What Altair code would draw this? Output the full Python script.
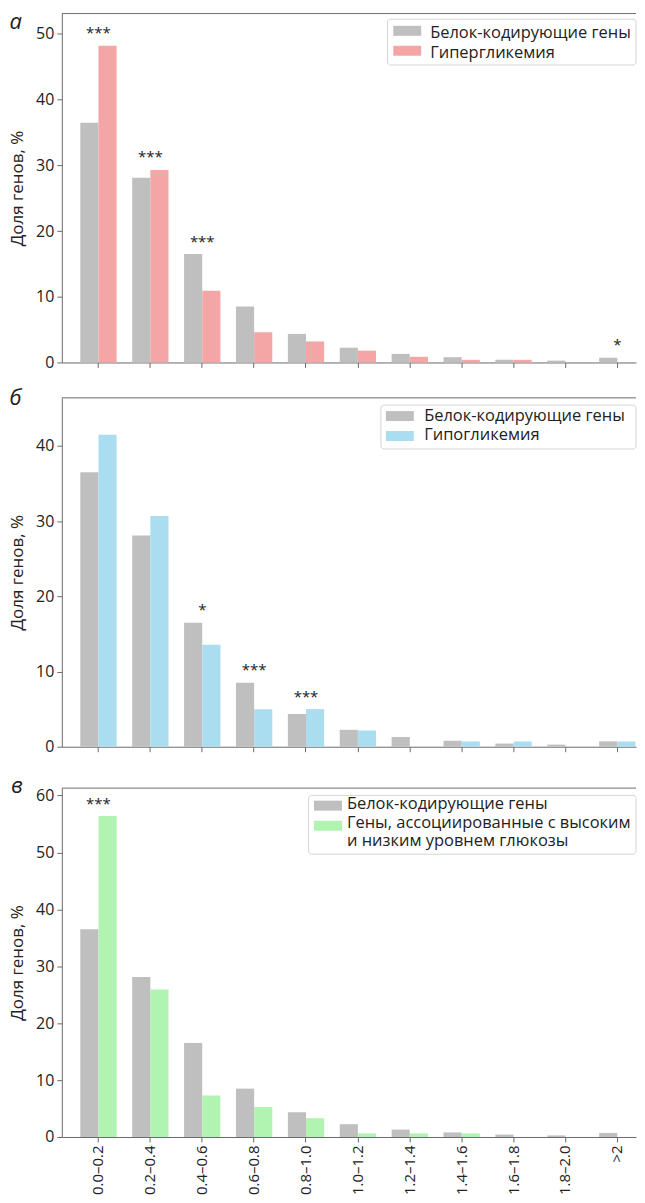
import altair as alt
import pandas as pd

# ---------------- data ----------------
categories = ["0.0–0.2", "0.2–0.4", "0.4–0.6", "0.6–0.8", "0.8–1.0",
              "1.0–1.2", "1.2–1.4", "1.4–1.6", "1.6–1.8", "1.8–2.0", ">2"]
protein_coding = [36.5, 28.1, 16.5, 8.5, 4.35, 2.25, 1.3, 0.8, 0.42, 0.28, 0.72]
hyperglycemia = [48.2, 29.3, 10.9, 4.6, 3.2, 1.8, 0.86, 0.4, 0.4, 0.0, 0.0]
hypoglycemia = [41.5, 30.7, 13.55, 5.0, 5.0, 2.16, 0.0, 0.7, 0.7, 0.0, 0.7]
glucose = [56.4, 25.9, 7.3, 5.25, 3.3, 0.64, 0.64, 0.64, 0.0, 0.0, 0.0]
sig_a = ["***", "***", "***", "", "", "", "", "", "", "", "*"]
sig_b = ["", "", "*", "***", "***", "", "", "", "", "", ""]
sig_c = ["***", "", "", "", "", "", "", "", "", "", ""]

name_pc = "Белок-кодирующие гены"
name_hyper = "Гипергликемия"
name_hypo = "Гипогликемия"
name_gl = "Гены, ассоциированные с высоким"
name_gl2 = "и низким уровнем глюкозы"

# ---------------- style ----------------
FONT = "Open Sans"
GRAY = "#bfbfbf"
PINK = "#f4a6a6"
BLUE = "#abddf1"
GREEN = "#b1f3b1"
AXC = "#6a6a6a"
TXT = "#222222"
W = 576
ONE = pd.DataFrame({"t": [0]})


def deco_rect(x0, x1, y0, y1, **kw):
    return alt.Chart(ONE).mark_rect(**kw).encode(
        x=alt.value(x0), x2=alt.value(x1), y=alt.value(y0), y2=alt.value(y1))


def deco_text(txt, x, y, **kw):
    return alt.Chart(pd.DataFrame({"t": [txt]})).mark_text(**kw).encode(
        x=alt.value(x), y=alt.value(y), text="t:N")


def legend_layers(box, sw_x, txt_x, rows):
    """rows: (label, colour or None, swatch_top, text_baseline)"""
    out = [deco_rect(box[0], box[1], box[2], box[3], fill="white",
                     stroke="#d4d4d4", strokeWidth=1, cornerRadius=3)]
    for label, col, sy, by in rows:
        if col:
            out.append(deco_rect(sw_x, sw_x + 28, sy, sy + 10, fill=col))
        out.append(deco_text(label, txt_x, by, font=FONT, fontSize=16.5,
                             color=TXT, align="left", baseline="alphabetic"))
    return out


def panel(other, other_name, color, sig, ymax, yticks, letter, lpos,
          show_labels, legend, H, spacer=0):
    df = pd.DataFrame({
        "category": categories * 2,
        "series": [name_pc] * len(categories) + [other_name] * len(categories),
        "value": protein_coding + other,
    })

    xscale = alt.Scale(domain=categories, paddingInner=0.3,
                       paddingOuter=0.183, align=0.973)
    xaxis = alt.Axis(title=None, labels=show_labels, labelAngle=270,
                     labelFont=FONT, labelFontSize=15, labelColor=TXT,
                     labelPadding=3, tickSize=5, tickColor=AXC,
                     domainColor=AXC, grid=False)
    yaxis = alt.Axis(title="Доля генов, %", titleFont=FONT, titleFontSize=17,
                     titleFontWeight="normal", titleColor=TXT, titlePadding=9,
                     labelFont=FONT, labelFontSize=16, labelColor=TXT,
                     labelPadding=3, tickSize=5, tickColor=AXC,
                     domainColor=AXC, grid=False, values=yticks)

    bars = alt.Chart(df).mark_bar().encode(
        x=alt.X("category:N", scale=xscale, sort=categories, axis=xaxis),
        xOffset=alt.XOffset("series:N", sort=[name_pc, other_name],
                            scale=alt.Scale(domain=[name_pc, other_name])),
        y=alt.Y("value:Q", scale=alt.Scale(domain=[0, ymax], nice=False),
                axis=yaxis),
        color=alt.Color("series:N",
                        scale=alt.Scale(domain=[name_pc, other_name],
                                        range=[GRAY, color]),
                        legend=None),
    )

    tops = [max(a, b) for a, b in zip(protein_coding, other)]
    ann_df = pd.DataFrame({"category": categories, "label": sig, "top": tops})
    ann_df = ann_df[ann_df["label"] != ""]
    ann = alt.Chart(ann_df).mark_text(
        font=FONT, fontSize=15, color=TXT, dy=-12.5
    ).encode(
        x=alt.X("category:N", scale=xscale, sort=categories),
        y=alt.Y("top:Q"),
        text="label:N",
    )

    lab = deco_text(letter, lpos[0], lpos[1], font=FONT, fontSize=22,
                    fontStyle="italic", color=TXT, align="left",
                    baseline="alphabetic")

    top_rule = alt.Chart(ONE).mark_rule(color=AXC, strokeWidth=1).encode(
        x=alt.value(0), x2=alt.value(W), y=alt.value(0))

    layers = [bars, ann, lab, top_rule] + legend
    if spacer:
        layers.append(alt.Chart(ONE).mark_rule(opacity=0, strokeOpacity=0)
                      .encode(x=alt.value(0), y=alt.value(H),
                              y2=alt.value(H + spacer)))
    return alt.layer(*layers).properties(width=W, height=H)


leg_a = legend_layers((326.8, W, 5.6, 51.6), 332.5, 369.5,
                      [(name_pc, GRAY, 12.3, 25.0),
                       (name_hyper, PINK, 32.3, 44.3)])
leg_b = legend_layers((320.1, W, 7.3, 51.3), 325.1, 363.5,
                      [(name_pc, GRAY, 13.3, 22.8),
                       (name_hypo, BLUE, 33.3, 42.6)])
leg_c = legend_layers((247.5, W, 7.3, 66.3), 253, 286,
                      [(name_pc, GRAY, 12.6, 21.3),
                       (name_gl, GREEN, 32.8, 40.3),
                       (name_gl2, None, 0, 58.3)])

pa = panel(hyperglycemia, name_hyper, PINK, sig_a, 53.1,
           [0, 10, 20, 30, 40, 50], "а", (-52.5, 15), False, leg_a, 350)
pb = panel(hypoglycemia, name_hypo, BLUE, sig_b, 46.4,
           [0, 10, 20, 30, 40], "б", (-52.5, 7.3), False, leg_b, 350,
           spacer=11.3)
pc = panel(glucose, name_gl, GREEN, sig_c, 61.3,
           [0, 10, 20, 30, 40, 50, 60], "в", (-51, 5.3), True, leg_c, 350)

chart = alt.vconcat(pa, pb, pc, spacing=16.5).resolve_scale(
    color="independent", x="independent", y="independent", xOffset="independent"
).properties(
    padding={"left": 0, "top": 0.7, "right": 0, "bottom": 0}
).configure_view(stroke=None)

chart.save("out.html", embed_options={"renderer": "svg", "actions": False})
